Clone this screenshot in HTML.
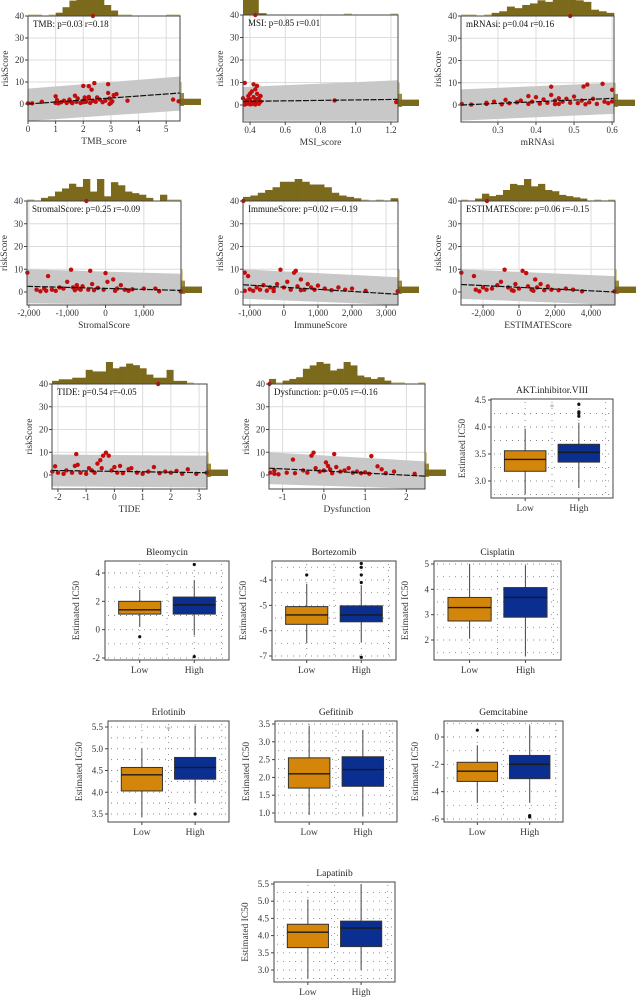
<!DOCTYPE html>
<html><head><meta charset="utf-8">
<style>
html,body{margin:0;padding:0;background:#fff;}
svg{display:block;font-family:"Liberation Serif",serif;}
</style></head>
<body>
<svg id="fig" width="638" height="1000" viewBox="0 0 638 1000" xmlns="http://www.w3.org/2000/svg"></svg>
<script>
// ---------- scatter data ----------
const tmbPoints=[[0,0.3],[0.15,0.3],[0.5,1],[1,0.5],[1,3.5],[1.05,1],[1.1,0.3],[1.2,0.8],[1.3,1.5],[1.4,0.5],[1.5,2],[1.55,1],[1.6,0.4],[1.7,3.8],[1.75,1],[1.8,2.5],[1.9,0.5],[2,1.5],[2,8.2],[2.05,3],[2.1,1],[2.2,8.1],[2.2,2.5],[2.25,0.5],[2.3,6.5],[2.35,1.5],[2.4,9.5],[2.5,3],[2.6,2],[2.7,0.8],[2.8,1.5],[2.9,9],[2.9,5],[2.95,2.5],[3,0.5],[3.05,1.2],[3.1,4],[3.2,4.5],[3.6,1.5],[5.25,2],[5.45,1.2],[2.35,40],[1.05,1.8],[2.0,0.8],[2.2,3.2],[2.45,1],[2.95,0]];
const msiPoints=[[0.37,9.8],[0.36,3],[0.37,1],[0.38,0.5],[0.38,2],[0.39,4],[0.39,1],[0.40,0.3],[0.40,2.5],[0.41,6],[0.41,1.2],[0.42,9.2],[0.42,3.5],[0.42,0.8],[0.43,7],[0.43,2],[0.43,40],[0.44,8.5],[0.44,5],[0.44,1],[0.45,0.5],[0.45,3],[0.46,4],[0.46,1.5],[0.40,5],[0.41,0.4],[0.43,0.2],[0.39,2.2],[0.88,2],[1.23,1.3],[0.37,0.2],[0.44,2.6]];
const mrnaPoints=[[0.205,0.5],[0.23,0.2],[0.27,0.5],[0.27,1],[0.29,1.5],[0.31,0.3],[0.32,2.3],[0.33,0.8],[0.35,1.2],[0.36,2],[0.38,0.5],[0.38,4],[0.39,1.5],[0.40,3.5],[0.41,0.6],[0.42,2.5],[0.43,1],[0.44,8.2],[0.44,4.5],[0.45,2],[0.46,3],[0.46,0.5],[0.47,1.5],[0.48,2.8],[0.49,40],[0.49,1],[0.50,3.8],[0.51,0.8],[0.52,2],[0.525,8.3],[0.535,9.2],[0.54,1.2],[0.55,2.8],[0.56,0.5],[0.575,9.5],[0.58,1.5],[0.6,6.8],[0.59,0.8],[0.6,1.6],[0.45,0.4],[0.53,0.3]];
const stromalPoints=[[-2040,8.5],[-1800,1],[-1700,0.3],[-1600,1.5],[-1550,0.5],[-1500,7],[-1400,1],[-1300,0.5],[-1200,2],[-1100,1.5],[-1000,4.5],[-900,9.8],[-850,2],[-800,0.8],[-750,3],[-700,1.5],[-600,2.5],[-400,9.3],[-450,1],[-350,3.5],[-300,0.8],[-200,1.8],[0,8.3],[-50,1],[50,4.5],[200,5.5],[250,0.5],[300,1.5],[400,3],[500,1],[600,0.5],[700,1.2],[1000,1.5],[1300,1.5],[1400,0.3],[1960,0.3],[-500,40],[-650,1]];
const immunePoints=[[-1150,8.5],[-1150,0.5],[-1050,7],[-1000,1.2],[-900,0.5],[-800,2],[-700,1],[-600,3],[-500,0.6],[-400,2],[-300,1.5],[-200,3.5],[-100,9.8],[0,2],[100,4.5],[200,1],[300,8.5],[350,9.3],[400,2.5],[500,5.5],[600,1],[700,3.5],[800,2],[900,1],[1000,2.8],[1200,1.5],[1400,0.8],[1600,2],[1800,1],[2000,1.5],[2400,0.5],[3340,0.3],[-1190,40],[-300,0.4],[500,0.8]];
const estimatePoints=[[-3200,8.5],[-2500,7],[-2400,1],[-2200,0.3],[-2000,2],[-1800,1],[-1500,1.5],[-1200,3],[-1000,4.5],[-800,9.8],[-600,2],[-400,0.8],[-200,3.5],[0,1.5],[200,9.3],[400,8.3],[500,2.5],[700,1],[900,5.5],[1000,2],[1200,3.5],[1400,0.8],[1600,2.5],[1800,1],[2200,0.8],[2600,1.5],[3000,1],[3500,0.3],[5300,0.3],[-1780,40],[-300,0.5],[800,0.5]];
const tidePoints=[[-2.2,1.5],[-2.1,3.8],[-2,1],[-1.8,0.5],[-1.7,2],[-1.5,1],[-1.4,4],[-1.35,9.2],[-1.3,4.5],[-1.2,1],[-1,0.5],[-0.9,3],[-0.8,2],[-0.7,1],[-0.6,5],[-0.5,6.5],[-0.45,3],[-0.4,8.5],[-0.3,9.8],[-0.2,8.5],[-0.1,2],[0,3.5],[0.1,1],[0.2,4],[0.3,0.8],[0.5,2.5],[0.6,3],[0.8,1],[1.0,0.5],[1.2,1.5],[1.4,3.5],[1.6,0.8],[1.8,1.5],[2.0,1],[2.2,1.8],[2.4,0.5],[2.6,2.5],[2.9,0.5],[3.27,1],[1.55,40]];
const dysPoints=[[-1.32,40],[-1.3,1],[-1.2,2],[-1.1,0.3],[-0.9,1],[-0.75,6.8],[-0.7,0.8],[-0.5,2],[-0.4,1],[-0.3,8.5],[-0.25,9.8],[-0.2,3],[-0.1,1.5],[0,2],[0.05,5.5],[0.1,4],[0.15,2.5],[0.2,0.8],[0.25,9.2],[0.3,3.5],[0.4,1.5],[0.5,2],[0.6,3],[0.7,1],[0.8,1.5],[0.9,0.8],[1.0,1.2],[1.1,0.5],[1.15,8.3],[1.3,3.8],[1.4,2.5],[1.5,0.8],[1.7,1.5],[2.2,0.5],[-1.2,0.5]];
// marginal histogram counts
const tmbHist=[1,1,0,1,3,8,14,16,18,20,17,10,5,1,1,0,0,0,0,0,1,1];
const msiHist=[20,24,2,0,0,0,0,0,0,0,0,0,0,1,0,0,0,0,0,1];
const mrnaHist=[1,1,0,1,2,3,6,5,7,8,10,9,12,14,12,10,9,4,3,2];
const stromalHist=[1,0,2,3,6,8,11,9,14,6,14,3,12,10,6,5,4,2,0,4,1,1];
const immuneHist=[3,4,6,8,10,14,14,16,14,12,12,10,6,4,3,2,1,0,1,0,2];
const estimateHist=[1,0,2,6,4,5,9,14,13,18,12,14,9,8,5,4,3,2,0,1,0,1];
const tideHist=[2,3,3,4,4,9,8,8,14,10,11,13,12,10,6,4,4,9,2,2,1,0,0];
const dysHist=[3,1,2,3,4,9,11,13,12,8,9,13,11,5,4,3,4,2,1,1,0,0,1];
// regression fit endpoints (y at left, y at right)
const tmbFit=[0,5], msiFit=[1.6,2.5], mrnaFit=[0,3], stromalFit=[2.5,0.7], immuneFit=[3.2,-1], estimateFit=[3.3,0], tideFit=[2,1], dysFit=[3,-0.5];
// confidence band [upperL, upperR, lowerL, lowerR]
const tmbBand=[7,12.5,-7.7,-3], msiBand=[8,11,-7,-7], mrnaBand=[7,10,-7,-4], stromalBand=[10,8,-5,-7.1], immuneBand=[10,6.5,-3,-7.1], estimateBand=[10,7,-3,-7], tideBand=[9,8.5,-5,-5.5], dysBand=[10,6,-4,-6.2];
// ---------- boxplot data [whiskerLo, q1, median, q3, whiskerHi] ----------
const aktLow=[2.75,3.18,3.4,3.56,3.97], aktHigh=[2.87,3.35,3.53,3.68,4.08], aktOut=[4.2,4.25,4.28,4.42];
const bleoLow=[0.2,1.1,1.4,2.0,2.8], bleoHigh=[-0.4,1.1,1.75,2.3,3.5], bleoOutLow=[-0.5], bleoOutHigh=[4.6,-1.9];
const bortLow=[-6.5,-5.75,-5.38,-5.05,-4.15], bortHigh=[-6.45,-5.65,-5.38,-5.02,-4.2], bortOutLow=[-3.8], bortOutHigh=[-4.1,-3.8,-3.5,-3.35,-7.05];
const cisLow=[2.05,2.75,3.28,3.68,5.0], cisHigh=[1.35,2.9,3.68,4.07,4.95];
const erlLow=[3.42,4.03,4.4,4.57,5.0], erlHigh=[3.75,4.3,4.57,4.8,5.53], erlOutHigh=[3.5];
const gefLow=[0.95,1.7,2.1,2.55,3.45], gefHigh=[0.9,1.75,2.22,2.58,3.33];
const gemLow=[-4.8,-3.25,-2.5,-1.85,-0.6], gemHigh=[-4.8,-3.05,-2.0,-1.35,0.85], gemOutLow=[0.5], gemOutHigh=[-5.75,-5.85];
const lapLow=[2.75,3.65,4.1,4.33,5.05], lapHigh=[3.0,3.68,4.22,4.42,5.5];

const NS='http://www.w3.org/2000/svg';
const svg=document.getElementById('fig');
function el(tag,attrs,parent,text){const e=document.createElementNS(NS,tag);for(const k in attrs)e.setAttribute(k,attrs[k]);if(text!==undefined)e.textContent=text;(parent||svg).appendChild(e);return e;}
el('rect',{x:0,y:0,width:638,height:1000,fill:'#fff'});

function scatter(c){
  const g=el('g',{});
  
  
  const sx=v=>c.x0+(v-c.xd[0])/(c.xd[1]-c.xd[0])*(c.x1-c.x0);
  const k=(c.y0-c.yTop)/40;
  const sy=v=>c.y0-v*k;
  const hg=el('g',{},g);
  
  
  const mx=Math.max(...c.hist), bw=(c.x1-c.x0)/c.hist.length;
  c.hist.forEach((v,i)=>{
    const h=v/mx*22; if(v===0)return;
    const r=el('rect',{x:c.x0+i*bw,y:c.yTop-Math.max(h,1.5),width:bw+0.3,height:Math.max(h,1.5),fill:v<=1?'#c9bf8a':'#7c6a1c'},hg);
    
    
  });
  el('rect',{x:c.x1,y:sy(10),width:2,height:sy(0)-sy(10),fill:'#d8cf9a'},g);
  el('rect',{x:c.x1,y:sy(5),width:4,height:sy(0)-sy(5)+2,fill:'#9c8a3c'},g);
  el('rect',{x:c.x1,y:sy(2.4),width:21,height:sy(0)-sy(2.4)+1,fill:'#7c6a1c'},g);
  el('rect',{x:c.x0,y:c.yTop,width:c.x1-c.x0,height:c.yBot-c.yTop,fill:'#fff'},g);
  [0,10,20,30].forEach(v=>el('line',{x1:c.x0,x2:c.x1,y1:sy(v),y2:sy(v),stroke:'#dcdcdc','stroke-width':1},g));
  c.ticks.forEach(v=>el('line',{x1:sx(v),x2:sx(v),y1:c.yTop,y2:c.yBot,stroke:'#dcdcdc','stroke-width':1},g));
  const b=c.band;
  const band=el('polygon',{points:`${c.x0},${sy(b[0])} ${c.x1},${sy(b[1])} ${c.x1},${Math.min(sy(b[3]),c.yBot)} ${c.x0},${Math.min(sy(b[2]),c.yBot)}`,fill:'#c8c8c8'},g);
  
  
  c.pts.forEach(p=>{
    const d=el('circle',{cx:sx(p[0]),cy:sy(p[1]),r:2.2,fill:'#c30d0d'},g);
    
    
  });
  const fl=el('line',{x1:c.x0,y1:sy(c.fit[0]),x2:c.x1,y2:sy(c.fit[1]),stroke:'#111','stroke-width':1.2,'stroke-dasharray':'6,1.5'},g);
  
  
  el('rect',{x:c.x0,y:c.yTop,width:c.x1-c.x0,height:c.yBot-c.yTop,fill:'none',stroke:'#444','stroke-width':1},g);
  [0,10,20,30,40].forEach(v=>{
    el('line',{x1:c.x0-3,x2:c.x0,y1:sy(v),y2:sy(v),stroke:'#444'},g);
    const t=el('text',{x:c.x0-4,y:sy(v)+3,'font-size':9,'text-anchor':'end',fill:'#333'},g,String(v));
    
    
  });
  const yt=el('text',{x:0,y:0,'font-size':9.5,'text-anchor':'middle',fill:'#333',transform:`translate(${c.x0-20},${(c.yTop+c.yBot)/2}) rotate(-90)`},g,'riskScore');
  
  
  c.ticks.forEach((v,i)=>{
    el('line',{x1:sx(v),x2:sx(v),y1:c.yBot,y2:c.yBot+3,stroke:'#444'},g);
    const t=el('text',{x:sx(v),y:c.yBot+11,'font-size':9,'text-anchor':'middle',fill:'#333'},g,c.tickLabels[i]);
    
    
  });
  const xt=el('text',{x:(c.x0+c.x1)/2,y:c.yBot+23,'font-size':9.5,'text-anchor':'middle',fill:'#333'},g,c.xtitle);
  
  
  const lb=el('text',{x:c.x0+5,y:c.yTop+11,'font-size':9,fill:'#111'},g,c.label);
  
  
}

scatter({name:'tmb',x0:28,x1:180,yTop:16,y0:104,yBot:121,xd:[0,5.5],ticks:[0,1,2,3,4,5],tickLabels:['0','1','2','3','4','5'],pts:tmbPoints,hist:tmbHist,fit:tmbFit,band:tmbBand,label:'TMB: p=0.03 r=0.18',xtitle:'TMB_score'});
scatter({name:'msi',x0:243,x1:398,yTop:15,y0:105,yBot:122,xd:[0.36,1.24],ticks:[0.4,0.6,0.8,1.0,1.2],tickLabels:['0.4','0.6','0.8','1.0','1.2'],pts:msiPoints,hist:msiHist,fit:msiFit,band:msiBand,label:'MSI: p=0.85 r=0.01',xtitle:'MSI_score'});
scatter({name:'mrnasi',x0:461,x1:614,yTop:16,y0:105,yBot:122,xd:[0.203,0.605],ticks:[0.3,0.4,0.5,0.6],tickLabels:['0.3','0.4','0.5','0.6'],pts:mrnaPoints,hist:mrnaHist,fit:mrnaFit,band:mrnaBand,label:'mRNAsi: p=0.04 r=0.16',xtitle:'mRNAsi'});
scatter({name:'stromal',x0:27,x1:181,yTop:201,y0:292,yBot:305,xd:[-2050,1970],ticks:[-2000,-1000,0,1000],tickLabels:['-2,000','-1,000','0','1,000'],pts:stromalPoints,hist:stromalHist,fit:stromalFit,band:stromalBand,label:'StromalScore: p=0.25 r=-0.09',xtitle:'StromalScore'});
scatter({name:'immune',x0:243,x1:398,yTop:201,y0:292,yBot:305,xd:[-1200,3350],ticks:[-1000,0,1000,2000,3000],tickLabels:['-1,000','0','1,000','2,000','3,000'],pts:immunePoints,hist:immuneHist,fit:immuneFit,band:immuneBand,label:'ImmuneScore: p=0.02 r=-0.19',xtitle:'ImmuneScore'});
scatter({name:'estimate',x0:461,x1:615,yTop:201,y0:292,yBot:305,xd:[-3220,5330],ticks:[-2000,0,2000,4000],tickLabels:['-2,000','0','2,000','4,000'],pts:estimatePoints,hist:estimateHist,fit:estimateFit,band:estimateBand,label:'ESTIMATEScore: p=0.06 r=-0.15',xtitle:'ESTIMATEScore'});
scatter({name:'tide',x0:52,x1:207,yTop:384,y0:475,yBot:489,xd:[-2.21,3.28],ticks:[-2,-1,0,1,2,3],tickLabels:['-2','-1','0','1','2','3'],pts:tidePoints,hist:tideHist,fit:tideFit,band:tideBand,label:'TIDE: p=0.54 r=-0.05',xtitle:'TIDE'});
scatter({name:'dysfunction',x0:269,x1:425,yTop:384,y0:475,yBot:489,xd:[-1.33,2.45],ticks:[-1,0,1,2],tickLabels:['-1','0','1','2'],pts:dysPoints,hist:dysHist,fit:dysFit,band:dysBand,label:'Dysfunction: p=0.05 r=-0.16',xtitle:'Dysfunction'});

function boxplot(c){
  const g=el('g',{});
  
  
  const ppu=(c.p2-c.p1)/(c.v1-c.v2);
  const sy=v=>c.p1+(c.v1-v)*ppu;
  const W=c.x1-c.x0;
  const cx=[c.x0+W*0.28,c.x0+W*0.72];
  const step=(c.ticks[1]-c.ticks[0])/2;
  const vmax=c.v1+(c.p1-c.y0)/ppu;
  for(let v=c.ticks[0]-step*4;v<=vmax+1e-9;v+=step){ if(sy(v)>c.y0+2&&sy(v)<c.y1-1) el('line',{x1:c.x0+3,x2:c.x1-3,y1:sy(v),y2:sy(v),stroke:'#888','stroke-width':0.9,'stroke-dasharray':'1,5'},g);}
  [0.28,0.5,0.72,0.94].forEach(f=>el('line',{x1:c.x0+W*f,x2:c.x0+W*f,y1:c.y0+3,y2:c.y1-3,stroke:'#888','stroke-width':0.9,'stroke-dasharray':'1,5'},g));
  const groups=[[c.low,c.outLow||[],'#d4860b','low'],[c.high,c.outHigh||[],'#0b2e91','high']];
  groups.forEach((gr,i)=>{
    const s=gr[0], x=cx[i], bw=W*0.34;
    el('line',{x1:x,x2:x,y1:sy(s[0]),y2:sy(s[4]),stroke:'#555','stroke-width':1.1},g);
    const r=el('rect',{x:x-bw/2,y:sy(s[3]),width:bw,height:sy(s[1])-sy(s[3]),fill:gr[2],stroke:'#333','stroke-width':1},g);
    
    
    el('line',{x1:x-bw/2,x2:x+bw/2,y1:sy(s[2]),y2:sy(s[2]),stroke:'#1a1a1a','stroke-width':1.4},g);
    gr[1].forEach(o=>{
      const d=el('circle',{cx:x,cy:sy(o),r:1.6,fill:'#111'},g);
      
      
    });
  });
  if(c.star!==undefined){
    const st=el('text',{x:(cx[0]+cx[1])/2,y:sy(c.star)+4,'font-size':9,'text-anchor':'middle',fill:'#999'},g,'*');
    
    
  }
  el('rect',{x:c.x0,y:c.y0,width:W,height:c.y1-c.y0,fill:'none',stroke:'#444','stroke-width':1},g);
  c.ticks.forEach((v,i)=>{
    el('line',{x1:c.x0-3,x2:c.x0,y1:sy(v),y2:sy(v),stroke:'#444'},g);
    const t=el('text',{x:c.x0-5,y:sy(v)+3,'font-size':9,'text-anchor':'end',fill:'#333'},g,c.tickLabels[i]);
    
    
  });
  ['Low','High'].forEach((s,i)=>{
    el('line',{x1:cx[i],x2:cx[i],y1:c.y1,y2:c.y1+3,stroke:'#444'},g);
    const t=el('text',{x:cx[i],y:c.y1+13,'font-size':9.5,'text-anchor':'middle',fill:'#333'},g,s);
    
    
  });
  const yt=el('text',{x:0,y:0,'font-size':9.5,'text-anchor':'middle',fill:'#333',transform:`translate(${c.x0-26},${(c.y0+c.y1)/2}) rotate(-90)`},g,'Estimated IC50');
  
  
  const tt=el('text',{x:c.x0+W/2,y:c.y0-6,'font-size':9.5,'text-anchor':'middle',fill:'#222'},g,c.title);
  
  
}

boxplot({name:'akt',title:'AKT.inhibitor.VIII',x0:491,x1:613,y0:399,y1:498,v1:4.5,p1:400,v2:3.0,p2:481,ticks:[3.0,3.5,4.0,4.5],tickLabels:['3.0','3.5','4.0','4.5'],low:aktLow,high:aktHigh,outHigh:aktOut,star:4.38});
boxplot({name:'bleomycin',title:'Bleomycin',x0:105,x1:229,y0:561,y1:660,v1:4,p1:573,v2:-2,p2:658,ticks:[-2,0,2,4],tickLabels:['-2','0','2','4'],low:bleoLow,high:bleoHigh,outLow:bleoOutLow,outHigh:bleoOutHigh});
boxplot({name:'bortezomib',title:'Bortezomib',x0:272,x1:396,y0:561,y1:660,v1:-4,p1:580,v2:-7,p2:656,ticks:[-7,-6,-5,-4],tickLabels:['-7','-6','-5','-4'],low:bortLow,high:bortHigh,outLow:bortOutLow,outHigh:bortOutHigh});
boxplot({name:'cisplatin',title:'Cisplatin',x0:434,x1:561,y0:561,y1:660,v1:5,p1:564,v2:2,p2:640,ticks:[2,3,4,5],tickLabels:['2','3','4','5'],low:cisLow,high:cisHigh});
boxplot({name:'erlotinib',title:'Erlotinib',x0:108,x1:229,y0:721,y1:822,v1:5.5,p1:727,v2:3.5,p2:814,ticks:[3.5,4.0,4.5,5.0,5.5],tickLabels:['3.5','4.0','4.5','5.0','5.5'],low:erlLow,high:erlHigh,outHigh:erlOutHigh,star:5.45});
boxplot({name:'gefitinib',title:'Gefitinib',x0:275,x1:397,y0:721,y1:822,v1:3.5,p1:724,v2:1.0,p2:813,ticks:[1.0,1.5,2.0,2.5,3.0,3.5],tickLabels:['1.0','1.5','2.0','2.5','3.0','3.5'],low:gefLow,high:gefHigh});
boxplot({name:'gemcitabine',title:'Gemcitabine',x0:444,x1:563,y0:721,y1:822,v1:0,p1:737,v2:-6,p2:819,ticks:[-6,-4,-2,0],tickLabels:['-6','-4','-2','0'],low:gemLow,high:gemHigh,outLow:gemOutLow,outHigh:gemOutHigh});
boxplot({name:'lapatinib',title:'Lapatinib',x0:274,x1:395,y0:882,y1:982,v1:5.5,p1:884,v2:3.0,p2:970,ticks:[3.0,3.5,4.0,4.5,5.0,5.5],tickLabels:['3.0','3.5','4.0','4.5','5.0','5.5'],low:lapLow,high:lapHigh});
</script>
</body></html>
